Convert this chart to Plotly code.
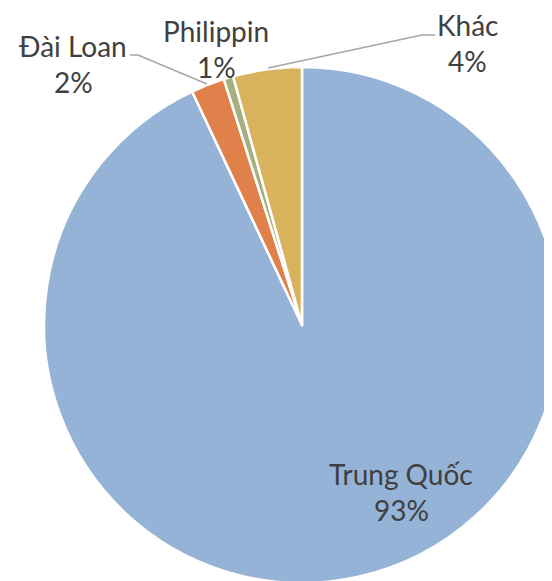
import plotly.graph_objects as go

W, H = 552, 581
OFF = 8  # page body margin shifts the figure

countries = ["Trung Quốc", "Đài Loan", "Philippin", "Khác"]
shares = [93.0, 2.1, 0.6, 4.3]
colors = ["#95B3D7", "#E0804A", "#A7AF80", "#D8B25C"]


def px_x(x):
    return (x - OFF) / W


def px_y(y):
    return 1 - (y - OFF) / H


fig = go.Figure()

fig.add_trace(go.Pie(
    labels=countries,
    values=shares,
    sort=False,
    direction="clockwise",
    rotation=0,
    textinfo="none",
    hoverinfo="label+percent",
    marker=dict(colors=colors, line=dict(color="white", width=2.5)),
    domain=dict(x=[px_x(44), px_x(560)], y=[px_y(583), px_y(67)]),
    showlegend=False,
))

total = sum(shares)
pct = [f"{round(v / total * 100):d}%" for v in shares]

# label positions (screen pixels: x centre, y of first line centre)
label_pos = [(401, 474), (73, 46), (216, 31), (467, 25)]
for name, p, (lx, ly) in zip(countries, pct, label_pos):
    for i, line in enumerate([name, p]):
        fig.add_annotation(
            x=px_x(lx), y=px_y(ly + 36 * i), xref="paper", yref="paper",
            text=line, showarrow=False, borderpad=0,
            xanchor="center", yanchor="middle", align="center",
            font=dict(family="Lato", size=28, color="#404040"),
        )


# leader lines
def leader(points):
    d = "M " + " L ".join(f"{px_x(x)},{px_y(y)}" for x, y in points)
    fig.add_shape(type="path", path=d, xref="paper", yref="paper",
                  line=dict(color="#A6A6A6", width=1.5))


leader([(130, 55), (138, 55), (207, 84)])
leader([(268, 68), (422, 35), (435, 35)])

fig.update_layout(
    width=W, height=H,
    margin=dict(l=0, r=0, t=0, b=0),
    paper_bgcolor="white",
    plot_bgcolor="white",
)

fig.write_html("out.html")
